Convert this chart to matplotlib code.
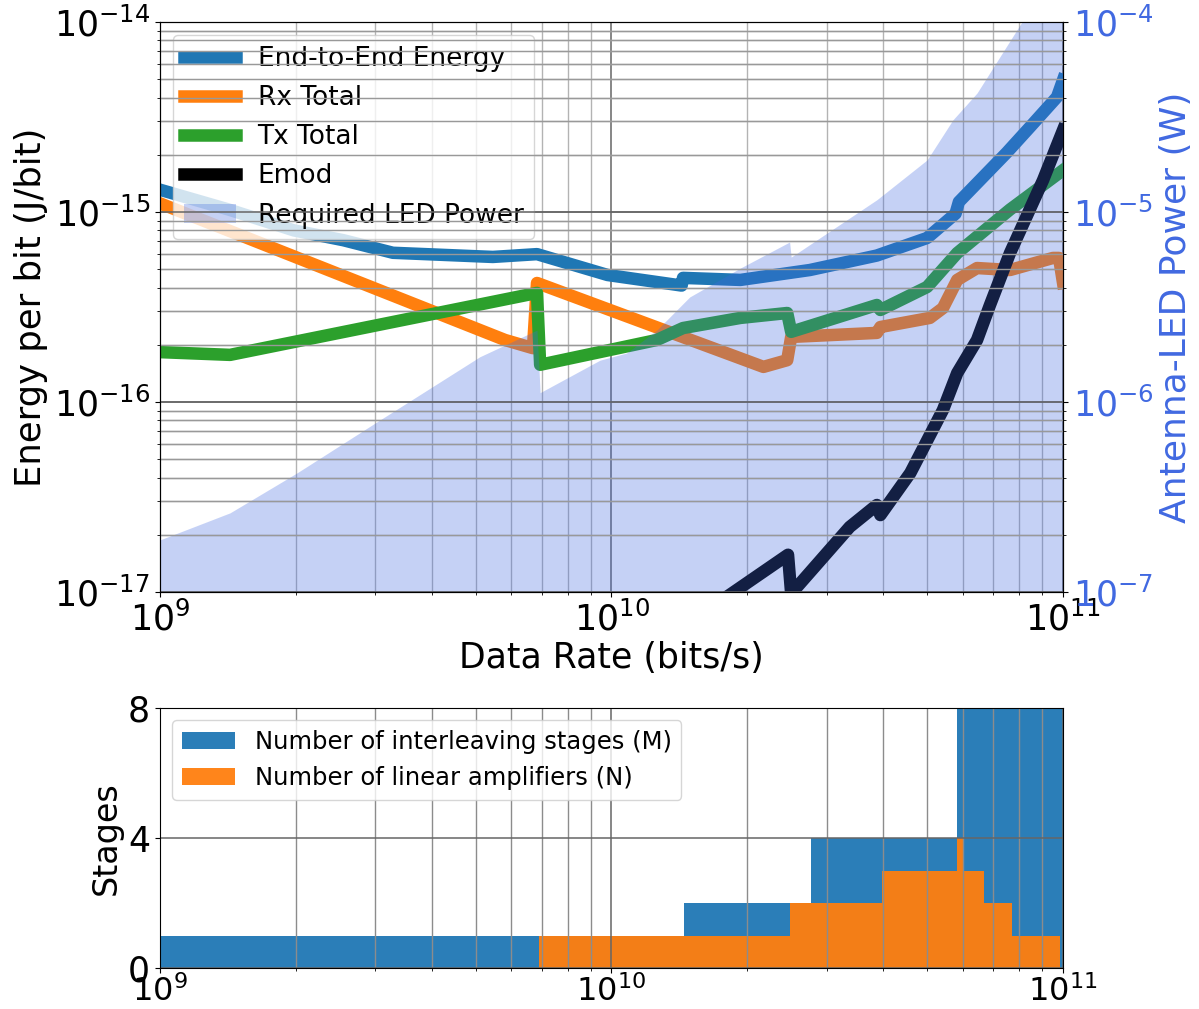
import numpy as np
import matplotlib
matplotlib.use('Agg')
import matplotlib.pyplot as plt

# --- top panel data ---
rate_e2e = [1e9, 1.42e9, 1.98e9, 2.55e9, 3.28e9, 5.46e9, 6.84e9, 9.8e9, 1.43e10, 1.44e10,
            1.93e10, 2.75e10, 3.87e10, 5.0e10, 5.78e10, 5.88e10, 7.5e10, 8.45e10, 9.7e10, 1e11]
e2e = [1.31e-15, 1.03e-15, 8.0e-16, 7.1e-16, 6.1e-16, 5.8e-16, 6.0e-16, 4.66e-16, 4.1e-16, 4.5e-16,
       4.39e-16, 4.95e-16, 5.9e-16, 7.3e-16, 9.8e-16, 1.13e-15, 2.05e-15, 2.8e-15, 4.03e-15, 4.95e-15]

rate_rx = [1e9, 5.81e9, 6.70e9, 6.84e9, 2.17e10, 2.45e10, 2.50e10, 3.87e10, 3.94e10, 5.07e10,
           5.42e10, 5.83e10, 6.45e10, 7.63e10, 9.5e10, 9.8e10, 1e11]
rx = [1.11e-15, 2.12e-16, 1.92e-16, 4.23e-16, 1.53e-16, 1.66e-16, 2.20e-16, 2.31e-16, 2.48e-16, 2.77e-16,
      3.12e-16, 4.39e-16, 5.07e-16, 4.95e-16, 5.73e-16, 5.73e-16, 4.23e-16]

rate_tx = [1e9, 1.43e9, 6.84e9, 6.95e9, 9.93e9, 1.26e10, 1.44e10, 1.93e10, 2.45e10, 2.50e10,
           3.87e10, 3.94e10, 5.0e10, 5.83e10, 7.63e10, 1e11]
tx = [1.83e-16, 1.77e-16, 3.75e-16, 1.57e-16, 1.88e-16, 2.12e-16, 2.45e-16, 2.77e-16, 2.94e-16, 2.34e-16,
      3.24e-16, 3.05e-16, 4.03e-16, 6.08e-16, 1.03e-15, 1.66e-15]

rate_mod = [1.75e10, 2.46e10, 2.50e10, 3.37e10, 3.87e10, 3.94e10, 4.59e10, 5.42e10, 5.83e10,
            6.45e10, 6.89e10, 7.63e10, 9.03e10, 1e11]
emod = [9.0e-18, 1.57e-17, 9.8e-18, 2.2e-17, 2.87e-17, 2.54e-17, 4.23e-17, 9.07e-17, 1.42e-16,
        2.12e-16, 3.24e-16, 6.08e-16, 1.47e-15, 2.70e-15]

rate_led = [1e9, 1.43e9, 2.01e9, 3.07e9, 5.11e9, 6.84e9, 6.95e9, 9.43e9, 1.08e10, 1.26e10,
            1.49e10, 1.93e10, 2.48e10, 2.50e10, 3.87e10, 5.0e10, 5.7e10, 6.45e10, 8.15e10, 1e11]
led = [1.88e-7, 2.61e-7, 4.23e-7, 8.04e-7, 1.73e-6, 2.39e-6, 1.12e-6, 1.66e-6, 1.81e-6, 2.39e-6,
       3.57e-6, 5.07e-6, 6.95e-6, 5.79e-6, 1.16e-5, 1.88e-5, 3.05e-5, 4.23e-5, 1.02e-4, 1.88e-4]

# --- bottom panel data ---
rate_m = [1e9, 1.45e10, 2.77e10, 5.81e10, 1e11]
m_stages = [1, 2, 4, 8, 8]
rate_n = [1e9, 6.91e9, 2.48e10, 3.97e10, 5.81e10, 6.0e10, 6.68e10, 7.7e10, 9.85e10, 1e11]
n_stages = [0, 1, 2, 3, 4, 3, 2, 1, 0, 0]

led_col = '#4169e1'
fs = 25

fig = plt.figure(figsize=(11.99, 10.09), dpi=100)
ax1 = fig.add_axes([0.1334, 0.4133, 0.7532, 0.5649])
ax2 = ax1.twinx()
ax3 = fig.add_axes([0.1334, 0.0406, 0.7532, 0.2577])

lw = 9
h1, = ax1.plot(rate_e2e, e2e, color='C0', lw=lw, label='End-to-End Energy')
h2, = ax1.plot(rate_rx, rx, color='C1', lw=lw, label='Rx Total')
h3, = ax1.plot(rate_tx, tx, color='C2', lw=lw, label='Tx Total')
h4, = ax1.plot(rate_mod, emod, color='k', lw=lw, label='Emod')
h5 = ax2.fill_between(rate_led, 1e-9, led, color=led_col, alpha=0.3, lw=0,
                      label='Required LED Power')

for ax in (ax1, ax2, ax3):
    ax.set_xscale('log')
    ax.set_xlim(1e9, 1e11)
ax1.set_yscale('log')
ax2.set_yscale('log')
ax1.set_ylim(1e-17, 1e-14)
ax2.set_ylim(1e-7, 1e-4)

ax1.grid(which='major', color='0.4', lw=1.1)
ax1.grid(which='minor', color='0.7', lw=1.0)
ax2.grid(which='major', axis='y', color='0.4', lw=1.1)
ax2.grid(which='minor', axis='y', color='0.6', lw=1.0)

ax1.set_xlabel('Data Rate (bits/s)', fontsize=fs, labelpad=2)
ax1.set_ylabel('Energy per bit (J/bit)', fontsize=25.5)
ax2.set_ylabel('Antenna-LED Power (W)', fontsize=26, color=led_col)
ax1.tick_params(labelsize=fs)
ax2.tick_params(labelsize=fs, labelcolor=led_col)

ax1.legend(handles=[h1, h2, h3, h4, h5], loc='upper left', fontsize=19,
           handlelength=2.0)

# bottom panel
ax3.fill_between(rate_m, 0, m_stages, step='post', color='C0', alpha=0.95, lw=0,
                 label='Number of interleaving stages (M)')
ax3.fill_between(rate_n, 0, n_stages, step='post', color='C1', alpha=0.95, lw=0,
                 label='Number of linear amplifiers (N)')
ax3.set_ylim(0, 8)
ax3.set_yticks([0, 4, 8])
ax3.grid(which='major', color='0.4', lw=1.1)
ax3.grid(which='minor', axis='x', color='0.55', lw=1.0)
ax3.set_ylabel('Stages', fontsize=24)
ax3.tick_params(axis='y', labelsize=fs)
ax3.tick_params(axis='x', labelsize=23, pad=2)
ax3.legend(loc='upper left', fontsize=17.5, handlelength=2.2)

fig.savefig('out.png', dpi=100)
